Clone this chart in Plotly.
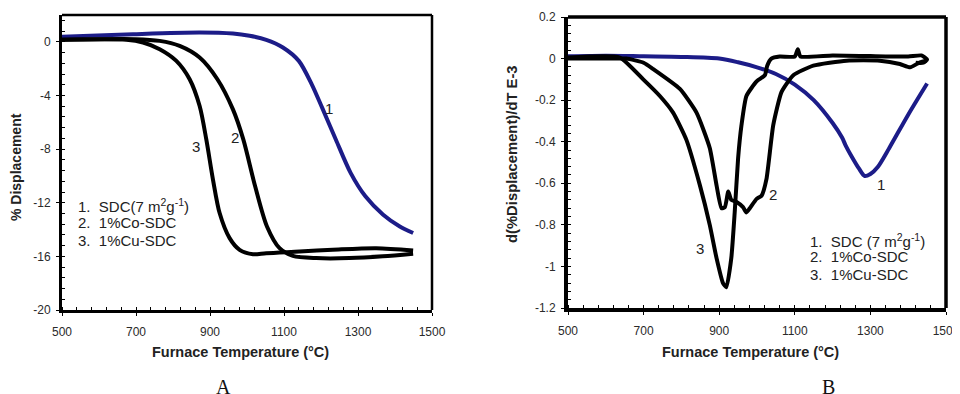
import plotly.graph_objects as go

# ---------------- Panel A data (% Displacement) ----------------
a1_t = [500, 692, 872, 962, 1007, 1052, 1097, 1140, 1175, 1203, 1240, 1280, 1320, 1368, 1413, 1449]
a1_v = [0.37, 0.57, 0.70, 0.62, 0.45, 0.15, -0.42, -1.42, -3.17, -4.91, -7.28, -9.77, -11.52, -12.89, -13.77, -14.26]

a2_t = [500, 698, 764, 818, 872, 920, 962, 990, 1022, 1054, 1088, 1124, 1187, 1277, 1367, 1449]
a2_v = [0.15, 0.2, 0.07, -0.3, -1.17, -2.79, -5.04, -7.28, -10.77, -13.77, -15.39, -15.96, -16.13, -16.13, -16.0, -15.81]

a3_t = [500, 674, 719, 764, 809, 845, 872, 890, 908, 926, 953, 980, 1016, 1052, 1142, 1232, 1349, 1449]
a3_v = [0.15, 0.15, -0.05, -0.55, -1.42, -2.79, -4.79, -7.28, -10.27, -12.77, -14.64, -15.51, -15.84, -15.76, -15.64, -15.51, -15.39, -15.56]

# ---------------- Panel B data (derivative) ----------------
b1_t = [500, 600, 700, 800, 900, 950, 1000, 1050, 1100, 1150, 1200, 1225, 1235, 1250, 1270, 1285, 1300, 1320, 1350, 1400, 1450]
b1_v = [0.011, 0.014, 0.011, 0.008, 0.0, -0.018, -0.042, -0.074, -0.125, -0.2, -0.31, -0.38, -0.42, -0.47, -0.53, -0.565, -0.555, -0.52, -0.43, -0.27, -0.12]

b2_t = [500, 600, 654, 700, 725, 796, 840, 875, 893, 906, 915, 924, 932, 946, 963, 972, 981, 999, 1012, 1025,
        1043, 1065, 1096, 1149, 1237, 1325, 1378, 1405, 1431, 1449]
b2_v = [0.0, 0.0, 0.0, -0.02, -0.05, -0.146, -0.26, -0.43, -0.61, -0.72, -0.715, -0.64, -0.68, -0.69, -0.715, -0.74, -0.72, -0.675, -0.66, -0.58,
        -0.32, -0.16, -0.08, -0.034, -0.01, -0.01, -0.026, -0.042, -0.018, -0.01]

b3_t = [500, 637, 699, 743, 778, 813, 849, 875, 893, 910, 919, 932, 941, 950, 959, 972, 999, 1021, 1027, 1038,
        1060, 1100, 1108, 1115, 1200, 1300, 1400, 1435, 1450, 1440, 1420]
b3_v = [0.005, 0.005, -0.1, -0.18, -0.26, -0.39, -0.61, -0.8, -0.96, -1.08, -1.1, -0.96, -0.74, -0.48, -0.32, -0.18, -0.11, -0.08, -0.034, 0.0,
        0.01, 0.01, 0.045, 0.01, 0.015, 0.012, 0.01, 0.015, -0.005, -0.02, -0.02]

x_ticks = [500, 700, 900, 1100, 1300, 1500]
a_yticks = [0, -4, -8, -12, -16, -20]
a_yticklabels = ["0", "-4", "-8", "-12", "-16", "-20"]
b_yticks = [0.2, 0, -0.2, -0.4, -0.6, -0.8, -1.0, -1.2]
b_yticklabels = ["0.2", "0", "-0.2", "-0.4", "-0.6", "-0.8", "-1", "-1.2"]

legend_lines = ["1.  SDC(7 m<sup>2</sup>g<sup>-1</sup>)", "2.  1%Co-SDC", "3.  1%Cu-SDC"]
legend_lines_b = ["1.  SDC (7 m<sup>2</sup>g<sup>-1</sup>)", "2.  1%Co-SDC", "3.  1%Cu-SDC"]

BLUE = "#1c1c88"
BLACK = "#000000"
OFF = 8  # page body margin
W, H = 960 - OFF, 394 - OFF

fig = go.Figure()
lw = 4
fig.add_trace(go.Scatter(x=a1_t, y=a1_v, mode="lines", line=dict(color=BLUE, width=lw, shape="spline", smoothing=0.8), xaxis="x", yaxis="y"))
fig.add_trace(go.Scatter(x=a2_t, y=a2_v, mode="lines", line=dict(color=BLACK, width=lw, shape="spline", smoothing=0.8), xaxis="x", yaxis="y"))
fig.add_trace(go.Scatter(x=a3_t, y=a3_v, mode="lines", line=dict(color=BLACK, width=lw, shape="spline", smoothing=0.8), xaxis="x", yaxis="y"))

fig.add_trace(go.Scatter(x=b1_t, y=b1_v, mode="lines", line=dict(color=BLUE, width=lw, shape="spline", smoothing=0.8), xaxis="x2", yaxis="y2"))
fig.add_trace(go.Scatter(x=b2_t, y=b2_v, mode="lines", line=dict(color=BLACK, width=lw, shape="spline", smoothing=0.5), xaxis="x2", yaxis="y2"))
fig.add_trace(go.Scatter(x=b3_t, y=b3_v, mode="lines", line=dict(color=BLACK, width=lw, shape="spline", smoothing=0.5), xaxis="x2", yaxis="y2"))

def px_x(p):
    return (p - OFF) / W

def px_y(p):
    return 1 - (p - OFF) / H

tickfont = dict(family="Arial, Liberation Sans, sans-serif", size=12, color="#2a2a2a")

def xaxis_cfg(dom, lw_axis):
    return dict(domain=dom, range=[500, 1500], tickvals=x_ticks, ticktext=[str(v) for v in x_ticks],
                showline=True, linecolor="black", linewidth=lw_axis, mirror=False, automargin=False,
                ticks="outside", ticklen=3, tickwidth=1, tickcolor="black", ticklabeloverflow="allow",
                minor=dict(ticks="inside", dtick=40, tick0=500, ticklen=3, tickcolor="black", tickwidth=1),
                showgrid=False, zeroline=False, tickfont=tickfont, ticklabelstandoff=6, fixedrange=True)

def yaxis_cfg(dom, rng, tv, tt, mdt, lw_axis, anchor):
    return dict(domain=dom, range=rng, tickvals=tv, ticktext=tt, anchor=anchor, automargin=False,
                showline=True, linecolor="black", linewidth=lw_axis, mirror=False,
                ticks="outside", ticklen=3, tickwidth=1, tickcolor="black", ticklabeloverflow="allow",
                minor=dict(ticks="inside", dtick=mdt, tick0=0, ticklen=3, tickcolor="black", tickwidth=1),
                showgrid=False, zeroline=False, tickfont=tickfont, ticklabelstandoff=3, fixedrange=True)

fig.update_layout(
    width=W, height=H, margin=dict(l=0, r=0, t=0, b=0, autoexpand=False),
    paper_bgcolor="white", plot_bgcolor="white", showlegend=False,
    xaxis=xaxis_cfg([px_x(62), px_x(432)], 3) | dict(anchor="y"),
    yaxis=yaxis_cfg([px_y(310), px_y(15)], [-20, 2], a_yticks, a_yticklabels, 0.8, 3, "x"),
    xaxis2=xaxis_cfg([px_x(568), px_x(946)], 4) | dict(anchor="y2"),
    yaxis2=yaxis_cfg([px_y(308), px_y(17)], [-1.2, 0.2], b_yticks, b_yticklabels, 0.04, 4, "x2"),
)

# top/right frame lines
shapes = []
for xr, yr, w in [("x domain", "y domain", 2.5), ("x2 domain", "y2 domain", 3.5)]:
    shapes.append(dict(type="line", xref=xr, yref=yr, x0=0, x1=1, y0=1, y1=1, line=dict(color="black", width=w)))
    shapes.append(dict(type="line", xref=xr, yref=yr, x0=1, x1=1, y0=0, y1=1, line=dict(color="black", width=w)))
fig.update_layout(shapes=shapes)

ann = []
def tfont(sz):
    return dict(family="Arial, Liberation Sans, sans-serif", size=sz, color="#222222")
# x axis titles
ann.append(dict(text="<b>Furnace Temperature (°C)</b>", x=px_x(240), y=px_y(352), xref="paper", yref="paper",
                showarrow=False, font=tfont(14.5), xanchor="center", yanchor="middle"))
ann.append(dict(text="<b>Furnace Temperature (°C)</b>", x=px_x(750), y=px_y(352), xref="paper", yref="paper",
                showarrow=False, font=tfont(14.5), xanchor="center", yanchor="middle"))
# y axis titles
ann.append(dict(text="<b>% Displacement</b>", x=px_x(16), y=px_y(167), xref="paper", yref="paper",
                showarrow=False, font=tfont(14), textangle=-90, xanchor="center", yanchor="middle"))
ann.append(dict(text="<b>d(%Displacement)/dT E-3</b>", x=px_x(512), y=px_y(154), xref="paper", yref="paper",
                showarrow=False, font=tfont(14.8), textangle=-90, xanchor="center", yanchor="middle"))

leg_font = tfont(15)
for i, t in enumerate(legend_lines):
    ann.append(dict(text=t, x=px_x(76), y=px_y(205 + 17.5 * i), xref="paper", yref="paper",
                    showarrow=False, font=leg_font, xanchor="left", yanchor="middle"))
for i, t in enumerate(legend_lines_b):
    ann.append(dict(text=t, x=px_x(808), y=px_y(240 + 17 * i), xref="paper", yref="paper",
                    showarrow=False, font=leg_font, xanchor="left", yanchor="middle"))

lab_font = tfont(15)
for txt, xp, yp in [("1", 329, 108), ("2", 235, 137), ("3", 196, 147),
                    ("1", 881, 184), ("2", 773, 195), ("3", 700, 248)]:
    ann.append(dict(text=txt, x=px_x(xp), y=px_y(yp), xref="paper", yref="paper",
                    showarrow=False, font=lab_font, xanchor="center", yanchor="middle"))

serif = dict(family="Liberation Serif, Times New Roman, serif", size=20, color="#111111")
ann.append(dict(text="A", x=px_x(223), y=px_y(387), xref="paper", yref="paper", showarrow=False, font=serif,
                xanchor="center", yanchor="middle"))
ann.append(dict(text="B", x=px_x(828), y=px_y(387), xref="paper", yref="paper", showarrow=False, font=serif,
                xanchor="center", yanchor="middle"))
fig.update_layout(annotations=ann)

fig.write_html("out.html")
